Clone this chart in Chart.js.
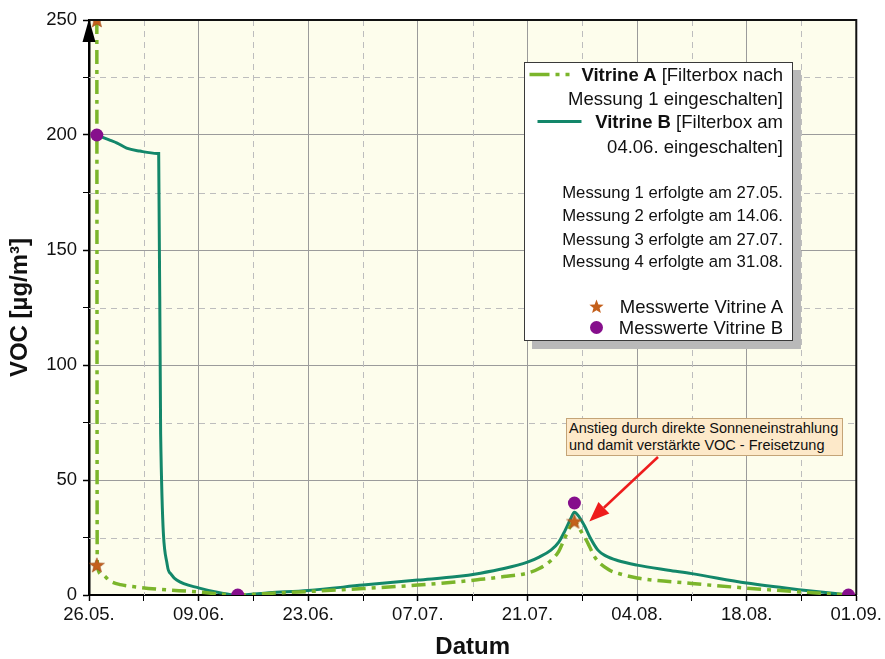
<!DOCTYPE html>
<html><head><meta charset="utf-8">
<script src="https://cdn.jsdelivr.net/npm/chart.js@4.4.0/dist/chart.umd.min.js"></script>
<style>
body{margin:0;background:#fff;}
#wrap{position:relative;width:885px;height:659px;font-family:'Liberation Sans',Arial,sans-serif;color:#111;}
#c{position:absolute;left:0;top:0;}
.legend{position:absolute;left:524px;top:62px;width:267px;height:277px;background:#fff;border:1.5px solid #3a3a3a;box-shadow:8px 8px 0 #b9b9b9;}
.legend svg{position:absolute;left:0;top:0;}
.row{position:absolute;right:9px;white-space:nowrap;line-height:22px;}
.big{font-size:18.5px;}
.small{font-size:16.7px;}
.note{position:absolute;left:566px;top:418px;width:273px;height:34px;background:#fde9c9;border:1px solid #c4a477;font-size:14.5px;line-height:17px;padding:1px 0 1px 2px;white-space:nowrap;}
</style>
</head><body>
<div id="wrap">
<canvas id="c" width="885" height="659"></canvas>
<div class="legend">
  <svg id="lg" width="267" height="277"></svg>
  <div class="row big" style="top:0.5px"><b>Vitrine A</b> [Filterbox nach</div>
  <div class="row big" style="top:24.5px">Messung 1 eingeschalten]</div>
  <div class="row big" style="top:47.5px"><b>Vitrine B</b> [Filterbox am</div>
  <div class="row big" style="top:72.5px">04.06. eingeschalten]</div>
  <div class="row small" style="top:118.5px">Messung 1 erfolgte am 27.05.</div>
  <div class="row small" style="top:141.5px">Messung 2 erfolgte am 14.06.</div>
  <div class="row small" style="top:165.5px">Messung 3 erfolgte am 27.07.</div>
  <div class="row small" style="top:187.5px">Messung 4 erfolgte am 31.08.</div>
  <div class="row big" style="top:232.5px">Messwerte Vitrine A</div>
  <div class="row big" style="top:253.5px">Messwerte Vitrine B</div>
</div>
<div class="note">Anstieg durch direkte Sonneneinstrahlung<br>und damit verstärkte VOC - Freisetzung</div>
</div>
<script>
// ---- data ----
const xTickLabels = ['26.05.','09.06.','23.06.','07.07.','21.07.','04.08.','18.08.','01.09.'];
const yTickLabels = ['0','50','100','150','200','250'];
// days after 26.05.
const daysA = [1, 1.05, 1.6, 2.7, 4, 6, 9, 14, 17, 19, 23, 28, 35, 42, 47, 50, 53, 56, 57.5, 59, 60, 60.8, 61.5, 62, 62.6, 63.5, 64.7, 66.4, 68, 70, 77, 84, 91, 97];
const vocA  = [250, 13, 9, 6, 4.5, 3.5, 2.5, 1.3, 0.3, 0, 0.7, 1.5, 2.8, 4.3, 5.7, 6.8, 8, 9.5, 11.5, 15, 19, 25, 30, 32, 29, 24, 16, 11, 9, 7.4, 5, 3, 1.3, 0];
const daysB = [1, 2.5, 3.6, 4.8, 6.5, 8.7, 8.9, 9.15, 10.0, 10.5, 11.2, 14.1, 16.7, 19, 23, 28, 35, 42, 47, 50, 53, 56, 57.5, 59, 60, 60.8, 61.5, 62, 62.6, 63.3, 64, 65, 66, 67.5, 70, 74, 77, 84, 91, 97];
const vocB  = [200, 198, 196.5, 194.3, 193, 192, 192, 70, 13, 9, 6.5, 3, 1, 0, 1, 2, 4.3, 6.5, 8, 9.5, 11.5, 14.3, 16.5, 19.5, 23, 28, 33, 36, 34, 30, 25, 19.5, 17, 15, 13, 10.8, 9.3, 5.2, 2.2, 0];
const messDaysA = [1, 1, 62];
const messA     = [250, 13, 32];
const messDaysB = [1, 19, 62, 97];
const messB     = [200, 0, 40, 0];

const colA = '#7bb52b', colB = '#13876a', colStar = '#c4601c', colCircle = '#860f8c';

function starPts(cx, cy, R, r){
  const p = [];
  for (let i = 0; i < 10; i++) {
    const a = -Math.PI/2 + i*Math.PI/5, rr = i%2 ? r : R;
    p.push([cx + rr*Math.cos(a), cy + rr*Math.sin(a)]);
  }
  return p;
}
const starCanvas = document.createElement('canvas');
starCanvas.width = 16; starCanvas.height = 16;
(function(){
  const g = starCanvas.getContext('2d');
  const p = starPts(8, 8.6, 7.8, 3.3);
  g.beginPath(); p.forEach((q,i)=> i? g.lineTo(q[0],q[1]) : g.moveTo(q[0],q[1])); g.closePath();
  g.fillStyle = colStar; g.fill();
  g.strokeStyle = '#9a4512'; g.lineWidth = 0.6; g.stroke();
})();

// legend symbols
(function(){
  const s = document.getElementById('lg');
  const ns = 'http://www.w3.org/2000/svg';
  function el(t, at){ const e = document.createElementNS(ns, t); for (const k in at) e.setAttribute(k, at[k]); s.appendChild(e); return e; }
  el('line', {x1:4.5, y1:11.5, x2:49.5, y2:11.5, stroke:colA, 'stroke-width':3.5, 'stroke-dasharray':'20,6,4,6,4,6'});
  el('line', {x1:12.5, y1:58.5, x2:56.5, y2:58.5, stroke:colB, 'stroke-width':3});
  el('polygon', {points: starPts(71.5, 244, 7.5, 3.2).map(q=>q.join(',')).join(' '), fill:colStar});
  el('circle', {cx:71.5, cy:264.5, r:6.5, fill:colCircle});
})();

const xy = (xs, ys) => xs.map((d,i)=>({x:d, y:ys[i]}));

const framePlugin = {
  id: 'frame',
  beforeDraw(chart){
    const {ctx, chartArea:a} = chart;
    ctx.save(); ctx.fillStyle = '#fdfdec';
    ctx.fillRect(a.left, a.top, a.right-a.left, a.bottom-a.top); ctx.restore();
  },
  beforeDatasetsDraw(chart){
    const {ctx, chartArea:a, scales:{x, y}} = chart;
    ctx.save();
    ctx.strokeStyle = '#bdbdbd'; ctx.lineWidth = 1; ctx.setLineDash([6,5]);
    for (let d = 7; d < 98; d += 14) {
      const px = Math.round(x.getPixelForValue(d)) + 0.5;
      ctx.beginPath(); ctx.moveTo(px, a.top); ctx.lineTo(px, a.bottom); ctx.stroke();
    }
    for (let v = 25; v < 250; v += 50) {
      const py = Math.round(y.getPixelForValue(v)) + 0.5;
      ctx.beginPath(); ctx.moveTo(a.left, py); ctx.lineTo(a.right, py); ctx.stroke();
    }
    ctx.restore();
  },
  afterDraw(chart){
    const {ctx, chartArea:a, scales:{x, y}} = chart;
    ctx.save();
    ctx.strokeStyle = '#111'; ctx.lineWidth = 2;
    ctx.beginPath(); ctx.moveTo(a.left, a.top); ctx.lineTo(a.right, a.top); ctx.lineTo(a.right, a.bottom); ctx.stroke();
    // y-axis arrow
    ctx.fillStyle = '#000';
    ctx.beginPath(); ctx.moveTo(a.left, a.top - 1); ctx.lineTo(a.left - 6.5, a.top + 22); ctx.lineTo(a.left + 6.5, a.top + 22); ctx.closePath(); ctx.fill();
    // annotation arrow
    const tx = x.getPixelForValue(63.9), ty = y.getPixelForValue(32);
    const sx = 658, sy = 457;
    const ang = Math.atan2(ty - sy, tx - sx), L = 20, W = 8;
    const bx = tx - L*Math.cos(ang), by = ty - L*Math.sin(ang);
    ctx.strokeStyle = '#ee1c1c'; ctx.fillStyle = '#ee1c1c'; ctx.lineWidth = 2.5;
    ctx.beginPath(); ctx.moveTo(sx, sy); ctx.lineTo(bx, by); ctx.stroke();
    ctx.beginPath(); ctx.moveTo(tx, ty);
    ctx.lineTo(bx + W*Math.sin(ang), by - W*Math.cos(ang));
    ctx.lineTo(bx - W*Math.sin(ang), by + W*Math.cos(ang));
    ctx.closePath(); ctx.fill();
    ctx.restore();
  }
};

Chart.defaults.font.family = "'Liberation Sans', Arial, sans-serif";
new Chart(document.getElementById('c'), {
  type: 'line',
  data: {
    datasets: [
      {label:'Messwerte Vitrine B', data: xy(messDaysB, messB), showLine:false, pointStyle:'circle', pointRadius:6.5, pointBackgroundColor:colCircle, pointBorderColor:colCircle, borderWidth:0, order:0},
      {label:'Messwerte Vitrine A', data: xy(messDaysA, messA), showLine:false, pointStyle:starCanvas, pointRadius:8, order:1},
      {label:'Vitrine B', data: xy(daysB, vocB), borderColor:colB, borderWidth:3, pointRadius:0, cubicInterpolationMode:'monotone', fill:false, order:3},
      {label:'Vitrine A', data: xy(daysA, vocA), borderColor:colA, borderWidth:3.5, borderDash:[14,6,4,6], pointRadius:0, cubicInterpolationMode:'monotone', fill:false, order:2}
    ]
  },
  options: {
    responsive:false, animation:false, devicePixelRatio:1,
    layout:{padding:{top:20, right:27, left:0, bottom:0}},
    plugins:{legend:{display:false}, tooltip:{enabled:false}},
    scales:{
      x:{type:'linear', min:0, max:98,
        ticks:{stepSize:7, autoSkip:false, maxRotation:0, padding:3, color:'#111', font:{size:18.5},
          callback:v => (v % 14 === 0) ? xTickLabels[v/14] : ''},
        grid:{color:c => (c.tick && c.tick.value % 14 === 0) ? '#9b9b9b' : 'rgba(0,0,0,0)', lineWidth:1,
          tickLength:6, tickColor:'#000', tickWidth:c => (c.tick && c.tick.value % 14 === 0) ? 1.5 : 1},
        border:{color:'#000', width:2},
        title:{display:true, text:'Datum', color:'#111', font:{size:24, weight:'bold', lineHeight:1}, padding:{top:0, bottom:0}},
        afterFit:s => { s.height = 64; }
      },
      y:{min:0, max:250,
        ticks:{stepSize:25, autoSkip:false, padding:6, color:'#111', font:{size:18.5},
          callback:v => (v % 50 === 0) ? yTickLabels[v/50] : ''},
        grid:{color:c => (c.tick && c.tick.value % 50 === 0) ? '#9b9b9b' : 'rgba(0,0,0,0)', lineWidth:1,
          tickLength:6, tickColor:'#000', tickWidth:c => (c.tick && c.tick.value % 50 === 0) ? 1.5 : 1},
        border:{color:'#000', width:2.5},
        title:{display:true, text:'VOC [µg/m³]', color:'#111', font:{size:24, weight:'bold', lineHeight:1}, padding:{top:8, bottom:0}},
        afterFit:s => { s.width = 89; }
      }
    }
  },
  plugins:[framePlugin]
});
</script>
</body></html>
